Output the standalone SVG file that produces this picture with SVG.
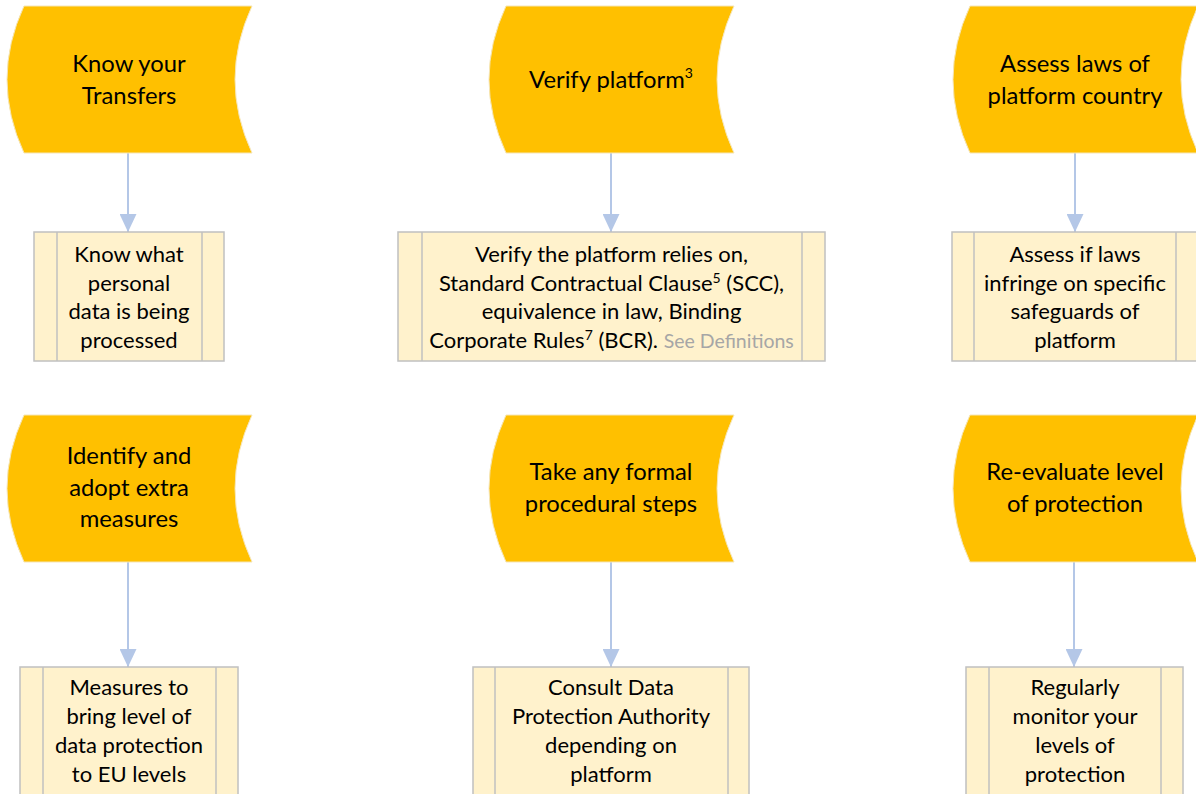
<svg xmlns="http://www.w3.org/2000/svg" width="1196" height="794" viewBox="0 0 1196 794">
<style>
.term{fill:#FFC000;stroke:#F5E6B8;stroke-width:1}
.box{fill:#FFF2CC;stroke:#C0C0C0;stroke-width:1.5}
.div{stroke:#C0C0C0;stroke-width:1.5}
.t{font-family:Lato,"Open Sans","Liberation Sans",sans-serif;font-size:23.8px;fill:#000;text-anchor:middle}
.b{font-family:Lato,"Open Sans","Liberation Sans",sans-serif;font-size:22px;fill:#000;text-anchor:middle}
.sup{font-size:14px}
.gray{fill:#A6A6A6}
.con{stroke:#B4C7E7;stroke-width:2;fill:none;marker-end:url(#ah)}
</style>
<defs>
<marker id="ah" markerUnits="userSpaceOnUse" markerWidth="18" markerHeight="17" refX="18" refY="8.5" orient="auto" viewBox="0 0 18 17">
<path d="M0,0 L18,8.5 L0,17 Z" fill="#B4C7E7"/>
</marker>
</defs>
<g id="connectors">
<path class="con" d="M128,153 V232"/>
<path class="con" d="M611,153 V232"/>
<path class="con" d="M1075,153 V232"/>
<path class="con" d="M128,562 V667"/>
<path class="con" d="M611,562 V667"/>
<path class="con" d="M1074,562 V667"/>
</g>
<g id="n1">
<path class="term" d="M24,6 L252,6 Q218,79.5 252,153 L24,153 Q-10,79.5 24,6 Z"/>
<text class="t" x="129" y="72">Know your</text>
<text class="t" x="129" y="104">Transfers</text>
</g>
<g id="n2">
<path class="term" d="M506,6 L734,6 Q700,79.5 734,153 L506,153 Q472,79.5 506,6 Z"/>
<text class="t" x="611" y="88">Verify platform<tspan class="sup" dy="-10">3</tspan></text>
</g>
<g id="n3">
<path class="term" d="M970,6 L1198,6 Q1164,79.5 1198,153 L970,153 Q936,79.5 970,6 Z"/>
<text class="t" x="1075" y="72">Assess laws of</text>
<text class="t" x="1075" y="104">platform country</text>
</g>
<g id="n4">
<rect class="box" x="34" y="232" width="190" height="129"/>
<line class="div" x1="57" y1="232" x2="57" y2="361"/>
<line class="div" x1="202" y1="232" x2="202" y2="361"/>
<text class="b" x="129" y="262">Know what</text>
<text class="b" x="129" y="290.5">personal</text>
<text class="b" x="129" y="319">data is being</text>
<text class="b" x="129" y="347.5">processed</text>
</g>
<g id="n5">
<rect class="box" x="398" y="232" width="427" height="129"/>
<line class="div" x1="422" y1="232" x2="422" y2="361"/>
<line class="div" x1="802" y1="232" x2="802" y2="361"/>
<text class="b" x="611.5" y="262">Verify the platform relies on,</text>
<text class="b" x="611.5" y="290.5">Standard Contractual Clause<tspan class="sup" dy="-8">5</tspan><tspan dy="8"> (SCC),</tspan></text>
<text class="b" x="611.5" y="319">equivalence in law, Binding</text>
<text class="b" x="611.5" y="347.5">Corporate Rules<tspan class="sup" dy="-8">7</tspan><tspan dy="8"> (BCR). </tspan><tspan class="gray" font-size="19.5px">See Definitions</tspan></text>
</g>
<g id="n6">
<rect class="box" x="952" y="232" width="246" height="129"/>
<line class="div" x1="974" y1="232" x2="974" y2="361"/>
<line class="div" x1="1176" y1="232" x2="1176" y2="361"/>
<text class="b" x="1075" y="262">Assess if laws</text>
<text class="b" x="1075" y="290.5">infringe on specific</text>
<text class="b" x="1075" y="319">safeguards of</text>
<text class="b" x="1075" y="347.5">platform</text>
</g>
<g id="n7">
<path class="term" d="M24,415 L252,415 Q218,488.5 252,562 L24,562 Q-10,488.5 24,415 Z"/>
<text class="t" x="129" y="464">Identify and</text>
<text class="t" x="129" y="496">adopt extra</text>
<text class="t" x="129" y="527">measures</text>
</g>
<g id="n8">
<path class="term" d="M506,415 L734,415 Q700,488.5 734,562 L506,562 Q472,488.5 506,415 Z"/>
<text class="t" x="611" y="480">Take any formal</text>
<text class="t" x="611" y="512">procedural steps</text>
</g>
<g id="n9">
<path class="term" d="M970,415 L1198,415 Q1164,488.5 1198,562 L970,562 Q936,488.5 970,415 Z"/>
<text class="t" x="1075" y="480">Re-evaluate level</text>
<text class="t" x="1075" y="512">of protection</text>
</g>
<g id="n10">
<rect class="box" x="20" y="667" width="218" height="140"/>
<line class="div" x1="43" y1="667" x2="43" y2="807"/>
<line class="div" x1="216" y1="667" x2="216" y2="807"/>
<text class="b" x="129" y="695">Measures to</text>
<text class="b" x="129" y="724">bring level of</text>
<text class="b" x="129" y="753">data protection</text>
<text class="b" x="129" y="782">to EU levels</text>
</g>
<g id="n11">
<rect class="box" x="473" y="667" width="276" height="140"/>
<line class="div" x1="495" y1="667" x2="495" y2="807"/>
<line class="div" x1="728" y1="667" x2="728" y2="807"/>
<text class="b" x="611" y="695">Consult Data</text>
<text class="b" x="611" y="724">Protection Authority</text>
<text class="b" x="611" y="753">depending on</text>
<text class="b" x="611" y="782">platform</text>
</g>
<g id="n12">
<rect class="box" x="966" y="667" width="217" height="140"/>
<line class="div" x1="989" y1="667" x2="989" y2="807"/>
<line class="div" x1="1161" y1="667" x2="1161" y2="807"/>
<text class="b" x="1075" y="695">Regularly</text>
<text class="b" x="1075" y="724">monitor your</text>
<text class="b" x="1075" y="753">levels of</text>
<text class="b" x="1075" y="782">protection</text>
</g>
</svg>
